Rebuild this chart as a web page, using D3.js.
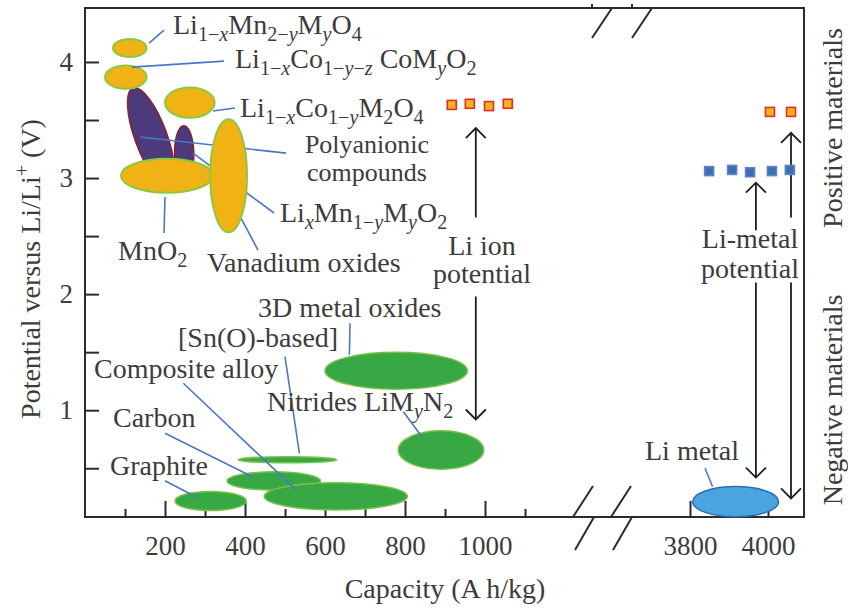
<!DOCTYPE html>
<html>
<head>
<meta charset="utf-8">
<script src="https://cdn.jsdelivr.net/npm/d3@7"></script>
<style>
  html, body { margin: 0; padding: 0; background: #fff; }
  svg { display: block; }
  text { font-family: "Liberation Serif", "Times New Roman", serif; fill: #3c3c3c; }
</style>
</head>
<body>
<svg id="chart" width="848" height="608"></svg>
<script>
// ---- data (capacity in A h/kg, potential in V vs Li/Li+) ----
// oval regions: centre capacity, centre potential, half-width (capacity), half-height (V)
const cathodeOvals = [
  { name: "LiMn2O4 spinel", cap: 112, v: 4.12, dc: 42, dv: 0.078 },
  { name: "LiCoO2",         cap: 102, v: 3.87, dc: 52, dv: 0.10 },
  { name: "LiCoM2O4",       cap: 262, v: 3.65, dc: 62, dv: 0.13 },
  { name: "MnO2",           cap: 205, v: 3.02, dc: 115, dv: 0.146 }
];
const vanadiumOval = { name: "Vanadium oxides", cap: 359, v: 3.02, dc: 46, dv: 0.487 };
// polyanionic compounds: ends of the long axis and half-width (capacity)
const polyanionicOvals = [
  { c1: 120, v1: 3.775, c2: 210, v2: 2.93, dc: 40 },
  { c1: 247, v1: 3.45,  c2: 249, v2: 2.97, dc: 24 }
];
const anodeOvals = [
  { name: "Graphite",        cap: 314, v: 0.218, dc: 89,  dv: 0.082 },
  { name: "Carbon",          cap: 472, v: 0.39,  dc: 117, dv: 0.079 },
  { name: "Composite alloy", cap: 627, v: 0.258, dc: 179, dv: 0.118 },
  { name: "Sn(O)-based",     cap: 506, v: 0.573, dc: 123, dv: 0.026 },
  { name: "3D metal oxides", cap: 778, v: 1.34,  dc: 178, dv: 0.16 },
  { name: "Nitrides",        cap: 890, v: 0.657, dc: 107, dv: 0.165 }
];
const liMetalOval = { name: "Li metal", cap: 3917, v: 0.212, dc: 110, dv: 0.13 };

// cell potentials
const liIonCap = [917, 962, 1010, 1057];
const liIonV = [3.63, 3.64, 3.62, 3.64];
const liMetalPosCap = [4005, 4059];
const liMetalPosV = [3.57, 3.57];
const liMetalNegCap = [3849, 3908, 3954, 4010, 4056];
const liMetalNegV = [3.06, 3.07, 3.05, 3.06, 3.07];

// potential arrows: capacity, [from, to] upward and downward (V)
const potentialArrows = [
  { scale: "L", cap: 977,  up: [2.66, 3.43], down: [1.98, 0.92] },
  { scale: "R", cap: 3969, up: [2.55, 2.96], down: [2.10, 0.42] },
  { scale: "R", cap: 4059, up: [2.66, 3.39], down: [2.10, 0.24] }
];

// leader lines [cap1, v1, cap2, v2]
const cathodeLeaders = [
  [160, 4.162, 197.5, 4.274],
  [117.5, 3.956, 347.5, 4.007],
  [320, 3.577, 375, 3.603],
  [137.5, 3.353, 502.5, 3.215],
  [270, 3.215, 472.5, 2.699],
  [200, 2.836, 197.5, 2.526],
  [390, 2.655, 432.5, 2.380]
];
const anodeLeaders = [
  [200, 0.393, 279, 0.25],
  [200, 0.801, 421, 0.422],
  [245.8, 1.232, 527.5, 0.313],
  [500, 1.461, 536, 0.629],
  [662.5, 1.748, 661, 1.477],
  [796, 0.987, 842, 0.772]
];
const liMetalLeader = [3838.5, 0.5, 3858, 0.341];

// axis ticks
const yTicks = [0.5, 1, 1.5, 2, 2.5, 3, 3.5, 4];
const xMajorLeft = [200, 400, 600, 800, 1000];
const xMinorLeft = [100, 300, 500, 700, 900, 1100];
const xMajorRight = [3800, 4000];
const xMinorRight = [3900];

// ---- layout ----
const plotLeft = 85, plotRight = 804, plotTop = 8, plotBottom = 517;
const svg = d3.select("#chart");
const xL = d3.scaleLinear().domain([0, 1200]).range([plotLeft, plotLeft + 480]);
const xR = d3.scaleLinear().domain([3800, 4100]).range([690, 807]);
const y = d3.scaleLinear().domain([0.08, 4.465]).range([plotBottom, plotTop]);

const INK = "#2b2b2b";
const FS = 28;
const fmt = d3.format("d");

// rich text helper: parts = [text, mode] where mode may contain s (sub), u (sup), i (italic)
function rich(sel, parts) {
  let cur = 0;
  parts.forEach(([txt, mode = ""]) => {
    const shift = mode.includes("s") ? 7 : mode.includes("u") ? -11 : 0;
    const ts = sel.append("tspan").text(txt).attr("dy", shift - cur);
    if (shift !== 0) ts.attr("font-size", "0.72em");
    if (mode.includes("i")) ts.attr("font-style", "italic");
    cur = shift;
  });
  return sel;
}
function label(x, yy, parts, anchor = "start", size = FS) {
  const t = svg.append("text").attr("x", x).attr("y", yy)
    .attr("font-size", size).attr("text-anchor", anchor);
  return rich(t, parts);
}
// two-line centred label in one text element
function label2(x, yy, line1, line2, gap, size = FS) {
  const t = svg.append("text").attr("x", x).attr("y", yy)
    .attr("font-size", size).attr("text-anchor", "middle");
  t.append("tspan").attr("x", x).text(line1);
  t.append("tspan").attr("x", x).attr("dy", gap).text(line2);
}

// ---- axes ----
const yAxis = d3.axisLeft(y).tickValues(yTicks).tickSize(-14).tickPadding(12)
  .tickFormat(d => Number.isInteger(d) ? fmt(d) : "");
const gy = svg.append("g").attr("transform", `translate(${plotLeft},0)`).call(yAxis);

const gxMajL = svg.append("g").attr("transform", `translate(0,${plotBottom})`)
  .call(d3.axisBottom(xL).tickValues(xMajorLeft).tickSize(-16).tickPadding(19).tickFormat(fmt));
const gxMinL = svg.append("g").attr("transform", `translate(0,${plotBottom})`)
  .call(d3.axisBottom(xL).tickValues(xMinorLeft).tickSize(-8).tickFormat(""));
const gxMajR = svg.append("g").attr("transform", `translate(0,${plotBottom})`)
  .call(d3.axisBottom(xR).tickValues(xMajorRight).tickSize(-16).tickPadding(19).tickFormat(fmt));
const gxMinR = svg.append("g").attr("transform", `translate(0,${plotBottom})`)
  .call(d3.axisBottom(xR).tickValues(xMinorRight).tickSize(-8).tickFormat(""));

[gy, gxMajL, gxMinL, gxMajR, gxMinR].forEach(g => {
  g.select(".domain").remove();
  g.selectAll("line").attr("stroke", INK).attr("stroke-width", 2);
  g.selectAll("text").attr("font-size", 27)
    .attr("font-family", '"Liberation Serif", "Times New Roman", serif').attr("fill", "#3c3c3c");
});

// frame
svg.append("rect").attr("x", plotLeft).attr("y", plotTop)
  .attr("width", plotRight - plotLeft).attr("height", plotBottom - plotTop)
  .attr("fill", "none").attr("stroke", INK).attr("stroke-width", 2);

// axis break marks
const brk = svg.append("g").attr("stroke", INK).attr("stroke-width", 2).attr("fill", "none");
[573, 611].forEach(bx => {
  brk.append("line").attr("x1", bx).attr("y1", plotBottom).attr("x2", bx + 20).attr("y2", plotBottom - 31);
  brk.append("line").attr("x1", bx + 21).attr("y1", plotBottom).attr("x2", bx + 2).attr("y2", plotBottom + 33);
});
[592, 632].forEach(bx => {
  brk.append("line").attr("x1", bx + 20).attr("y1", plotTop).attr("x2", bx).attr("y2", plotTop + 30);
  brk.append("line").attr("x1", bx).attr("y1", plotTop - 4).attr("x2", bx).attr("y2", plotTop);
});

// ---- positive materials ----
function oval(g, o, sx, fill, stroke, sw) {
  const cx = sx(o.cap), cy = y(o.v);
  g.append("ellipse").attr("cx", cx).attr("cy", cy)
    .attr("rx", Math.abs(sx(o.cap + o.dc) - cx)).attr("ry", Math.abs(y(o.v + o.dv) - cy))
    .attr("fill", fill).attr("stroke", stroke).attr("stroke-width", sw);
}
const gPos = svg.append("g");
polyanionicOvals.forEach(p => {
  const x1 = xL(p.c1), y1 = y(p.v1), x2 = xL(p.c2), y2 = y(p.v2);
  const len = Math.hypot(x2 - x1, y2 - y1);
  const ang = Math.atan2(x2 - x1, y2 - y1) * 180 / Math.PI;
  const w = xL(p.dc) - xL(0);
  gPos.append("ellipse")
    .attr("transform", `translate(${(x1 + x2) / 2},${(y1 + y2) / 2}) rotate(${-ang})`)
    .attr("rx", w).attr("ry", len / 2)
    .attr("fill", "#4c3a7c").attr("stroke", "#8a2030").attr("stroke-width", 1.5);
});
cathodeOvals.forEach(o => oval(gPos, o, xL, "#f0b215", "#8cc83f", 2));

function leaders(list, sx) {
  svg.append("g").selectAll("line").data(list).join("line")
    .attr("x1", d => sx(d[0])).attr("y1", d => y(d[1]))
    .attr("x2", d => sx(d[2])).attr("y2", d => y(d[3]))
    .attr("stroke", "#4a78c4").attr("stroke-width", 1.6);
}
leaders(cathodeLeaders, xL);
oval(svg.append("g"), vanadiumOval, xL, "#f0b215", "#8cc83f", 2);

// ---- negative materials ----
const gNeg = svg.append("g");
anodeOvals.forEach(o => oval(gNeg, o, xL, "#38a845", "#79c24a", 1.5));
leaders(anodeLeaders, xL);
oval(svg.append("g"), liMetalOval, xR, "#4aa4e0", "#2a6db5", 1.5);
leaders([liMetalLeader], xR);

// ---- potential markers ----
function squares(caps, vs, sx, fill, stroke, size) {
  svg.append("g").selectAll("rect").data(caps).join("rect")
    .attr("x", (d) => sx(d) - size / 2).attr("y", (d, i) => y(vs[i]) - size / 2)
    .attr("width", size).attr("height", size)
    .attr("fill", fill).attr("stroke", stroke).attr("stroke-width", 1.6);
}

// ---- arrows ----
const gArr = svg.append("g").attr("stroke", "#1e1e1e").attr("stroke-width", 1.8).attr("fill", "none");
potentialArrows.forEach(a => {
  const sx = a.scale === "L" ? xL : xR;
  const x = sx(a.cap);
  [a.up, a.down].forEach(([from, to]) => {
    const y1 = y(from), y2 = y(to);
    const dir = y2 < y1 ? 1 : -1;
    gArr.append("line").attr("x1", x).attr("y1", y1).attr("x2", x).attr("y2", y2);
    gArr.append("path").attr("d", `M${x - 10},${y2 + dir * 10} L${x},${y2} L${x + 10},${y2 + dir * 10}`);
  });
});

squares(liIonCap, liIonV, xL, "#f2b31b", "#e82a2a", 9);
squares(liMetalPosCap, liMetalPosV, xR, "#f2b31b", "#e82a2a", 9);
squares(liMetalNegCap, liMetalNegV, xR, "#3e6db4", "#5a86c4", 9);

// ---- labels ----
label(173, 34, [["Li"], ["1−", "s"], ["x", "si"], ["Mn"], ["2−", "s"], ["y", "si"], ["M"], ["y", "si"], ["O"], ["4", "s"]]);
label(235, 68, [["Li"], ["1−", "s"], ["x", "si"], ["Co"], ["1−", "s"], ["y", "si"], ["−", "s"], ["z", "si"], [" CoM"], ["y", "si"], ["O"], ["2", "s"]]);
label(240, 117, [["Li"], ["1−", "s"], ["x", "si"], ["Co"], ["1−", "s"], ["y", "si"], ["M"], ["2", "s"], ["O"], ["4", "s"]]);
label2(367, 153, "Polyanionic", "compounds", 28, 26);
label(280, 222, [["Li"], ["x", "si"], ["Mn"], ["1−", "s"], ["y", "si"], ["M"], ["y", "si"], ["O"], ["2", "s"]]);
label(118, 260, [["MnO"], ["2", "s"]]);
label(207, 272, [["Vanadium oxides"]]);
label2(482, 255, "Li ion", "potential", 28);
label2(750, 248, "Li-metal", "potential", 30);

label(258, 317, [["3D metal oxides"]]);
label(178, 347, [["[Sn(O)-based]"]]);
label(94, 378, [["Composite alloy"]]);
label(267, 411, [["Nitrides LiM"], ["y", "si"], ["N"], ["2", "s"]]);
label(113, 427, [["Carbon"]]);
label(110, 475, [["Graphite"]]);
label(645, 460, [["Li metal"]]);

// axis titles
label(445, 598, [["Capacity (A h/kg)"]], "middle");
rich(svg.append("text").attr("transform", "translate(40,269) rotate(-90)")
  .attr("text-anchor", "middle").attr("font-size", FS),
  [["Potential versus Li/Li"], ["+", "u"], [" (V)"]]);
svg.append("text").attr("transform", "translate(842,128) rotate(-90)")
  .attr("text-anchor", "middle").attr("font-size", FS).text("Positive materials");
svg.append("text").attr("transform", "translate(842,400) rotate(-90)")
  .attr("text-anchor", "middle").attr("font-size", FS).text("Negative materials");
</script>
</body>
</html>
